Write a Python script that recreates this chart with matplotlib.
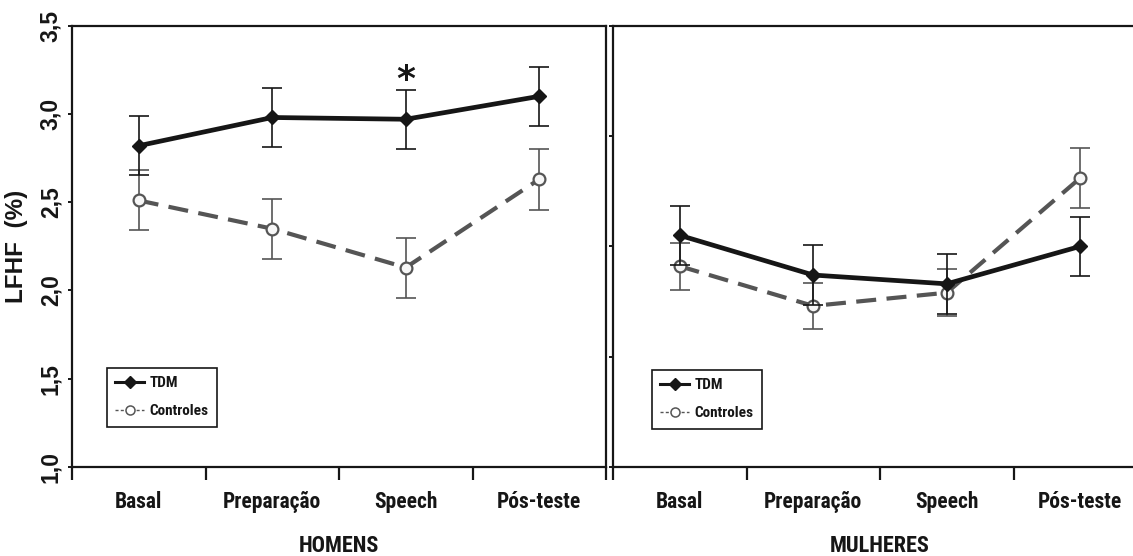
import matplotlib
matplotlib.use("Agg")
import matplotlib.pyplot as plt
from matplotlib.lines import Line2D

# Stages of the simulated public speaking test
stages = ['Basal', 'Preparação', 'Speech', 'Pós-teste']

# LF/HF (%) means and standard errors – men
homens_tdm = [2.82, 2.98, 2.97, 3.10]
homens_tdm_ep = [0.167, 0.167, 0.167, 0.168]
homens_ctrl = [2.51, 2.35, 2.13, 2.63]
homens_ctrl_ep = [0.17, 0.17, 0.17, 0.172]

# LF/HF (%) means and standard errors – women
mulheres_tdm = [2.05, 1.87, 1.83, 2.00]
mulheres_tdm_ep = [0.133, 0.134, 0.136, 0.133]
mulheres_ctrl = [1.91, 1.73, 1.79, 2.31]
mulheres_ctrl_ep = [0.106, 0.106, 0.106, 0.136]

group_labels = ['TDM', 'Controles']
panel_titles = ['HOMENS', 'MULHERES']
signif_stage = 2  # stage marked with an asterisk (men)

INK = '#161616'
GRAY = '#555555'
NARROW = ['Liberation Sans Narrow', 'Roboto Condensed', 'Liberation Sans', 'DejaVu Sans']
REG = ['Liberation Sans', 'DejaVu Sans']

W, H = 1133, 556
fig = plt.figure(figsize=(W / 100, H / 100), dpi=100)

def frac(x0, y_top, x1, y_bot):
    return [x0 / W, 1 - y_bot / H, (x1 - x0) / W, (y_bot - y_top) / H]

ax_h = fig.add_axes(frac(72, 25.7, 606, 467))
ax_m = fig.add_axes(frac(613, 25.7, 1147, 467))

xs = list(range(len(stages)))


def draw_panel(ax, tdm, tdm_ep, ctrl, ctrl_ep, ylim, yticks, show_ylabels, title):
    ax.set_xlim(-0.5, len(stages) - 0.5)
    ax.set_ylim(*ylim)

    # control group: grey dashed line with open circles
    ax.errorbar(xs, ctrl, yerr=ctrl_ep, fmt='none', ecolor=GRAY, elinewidth=1.2,
                capsize=7.5, capthick=1.2, zorder=2)
    ln, = ax.plot(xs, ctrl, color=GRAY, lw=3.0, zorder=3, solid_capstyle='butt')
    ln.set_dashes((4.8, 2.5))
    ax.plot(xs, ctrl, ls='none', marker='o', ms=8.5, mfc='#f7f7f7', mec=GRAY,
            mew=1.6, zorder=4)

    # depressed group: black solid line with diamonds
    ax.errorbar(xs, tdm, yerr=tdm_ep, fmt='none', ecolor=INK, elinewidth=1.2,
                capsize=7.5, capthick=1.2, zorder=5)
    ax.plot(xs, tdm, color=INK, lw=3.4, marker='D', ms=7, mfc=INK, mec=INK, zorder=6)

    for s in ax.spines.values():
        s.set_linewidth(1.6)
        s.set_color(INK)

    # x axis: boundary ticks, category names centred between them
    ax.set_xticks([x - 0.5 for x in range(len(stages) + 1)])
    ax.set_xticklabels([])
    ax.set_xticks(xs, minor=True)
    ax.set_xticklabels(stages, minor=True, fontsize=15.5, fontweight='bold', family=NARROW,
                       color=INK)
    ax.tick_params(axis='x', which='major', direction='out', length=9.5, width=1.6, color=INK)
    ax.tick_params(axis='x', which='minor', length=0, pad=17)

    ax.set_yticks(yticks)
    ax.tick_params(axis='y', direction='out', length=3, width=1.4, color=INK, pad=4)
    if show_ylabels:
        ax.set_yticklabels([f'{t:.1f}'.replace('.', ',') for t in yticks],
                           rotation=90, fontsize=16.5, fontweight='bold', family=REG,
                           color=INK)
        for lab in ax.get_yticklabels():
            lab.set_va('center')
    else:
        ax.set_yticklabels([])

    ax.text(0.5, -0.1926, title, transform=ax.transAxes, ha='center', va='baseline',
            fontsize=16, fontweight='bold', family=NARROW, color=INK)

    handles = [
        Line2D([], [], color=INK, lw=2.2, marker='D', ms=6.5, mfc=INK, mec=INK),
        Line2D([], [], color=GRAY, lw=1.0, ls=(0, (2.2, 1.6)), marker='o', ms=6.5,
               mfc='white', mec=GRAY, mew=1.1),
    ]
    return handles


hh = draw_panel(ax_h, homens_tdm, homens_tdm_ep, homens_ctrl, homens_ctrl_ep,
                (1.0, 3.5), [1.0, 1.5, 2.0, 2.5, 3.0, 3.5], True, panel_titles[0])
hm = draw_panel(ax_m, mulheres_tdm, mulheres_tdm_ep, mulheres_ctrl, mulheres_ctrl_ep,
                (1.0, 3.0), [1.0, 1.5, 2.0, 2.5, 3.0], False, panel_titles[1])

ax_h.set_ylabel('LFHF  (%)', fontsize=17.5, fontweight='bold', family=REG, color=INK,
                labelpad=8)

# significance mark above the men's TDM error bar
ax_h.annotate('*', xy=(signif_stage, homens_tdm[signif_stage] + homens_tdm_ep[signif_stage]),
              xytext=(0, 0), textcoords='offset points', ha='center', va='baseline',
              fontsize=26, fontweight='bold', family=['DejaVu Sans'], color=INK)

for ax, handles, anchor in ((ax_h, hh, (35 / 534, 99 / 441.3)),
                            (ax_m, hm, (39 / 534, 97 / 441.3))):
    leg = ax.legend(handles, group_labels, loc='upper left', bbox_to_anchor=anchor,
                    borderaxespad=0, frameon=True, fancybox=False, shadow=False,
                    framealpha=1, edgecolor=INK, handlelength=1.9, handletextpad=0.35,
                    borderpad=0.55, labelspacing=0.9,
                    prop={'family': NARROW, 'weight': 'bold', 'size': 11})
    leg.get_frame().set_linewidth(1.2)
    for t in leg.get_texts():
        t.set_color(INK)

fig.savefig('out.png', dpi=100)
